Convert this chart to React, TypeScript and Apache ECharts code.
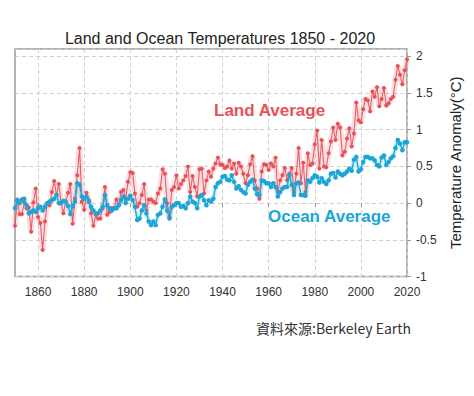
import React, { useEffect, useRef } from "react";
import * as echarts from "echarts";

const years: string[] = [];
for (let y = 1850; y <= 2020; y++) years.push(String(y));

const landAverage = [
  -0.31, 0.05, -0.15, -0.15, 0.01, -0.07, -0.06, -0.39, 0.01, 0.2,
  -0.19, -0.27, -0.64, -0.25, 0.0, -0.03, 0.15, 0.3, 0.11, 0.26,
  0.0, -0.14, 0.02, 0.14, 0.26, -0.28, 0.06, 0.38, 0.75, 0.02,
  -0.09, 0.14, 0.04, -0.14, -0.31, -0.16, -0.21, -0.21, -0.07, 0.22,
  -0.16, -0.12, -0.07, -0.07, 0.05, -0.03, 0.15, 0.18, 0.06, 0.29,
  0.42, 0.41, 0.13, -0.05, 0.0, 0.11, 0.26, -0.1, 0.05, 0.05,
  0.02, 0.0, 0.13, 0.2, 0.46, 0.4, 0.0, -0.19, 0.18, 0.22,
  0.38, 0.2, 0.26, 0.31, 0.37, 0.5, 0.15, 0.37, 0.22, 0.09,
  0.46, 0.47, 0.13, 0.31, 0.43, 0.36, 0.47, 0.54, 0.62, 0.53,
  0.52, 0.48, 0.5, 0.58, 0.47, 0.54, 0.4, 0.55, 0.5, 0.4,
  0.27, 0.38, 0.53, 0.64, 0.31, 0.2, 0.06, 0.43, 0.53, 0.52,
  0.45, 0.54, 0.5, 0.62, 0.15, 0.31, 0.38, 0.48, 0.31, 0.4,
  0.48, 0.15, 0.4, 0.75, 0.27, 0.55, 0.15, 0.68, 0.52, 0.54,
  0.8, 0.99, 0.47, 0.86, 0.5, 0.49, 0.68, 0.84, 1.03, 0.86,
  1.08, 1.03, 0.65, 0.7, 0.88, 1.02, 0.77, 0.95, 1.37, 1.13,
  1.1, 1.28, 1.42, 1.4, 1.25, 1.52, 1.45, 1.58, 1.32, 1.42,
  1.57, 1.33, 1.36, 1.42, 1.45, 1.68, 1.87, 1.75, 1.62, 1.81,
  1.96,
];

const oceanAverage = [
  -0.07, 0.04, 0.0, 0.05, 0.06, -0.03, -0.14, -0.12, -0.1, -0.12,
  -0.07, -0.05, -0.1, -0.05, 0.0, 0.02, 0.04, 0.06, 0.11, 0.0,
  0.0, 0.03, 0.02, -0.04, -0.15, -0.04, 0.02, 0.27, 0.25, 0.09,
  0.06, 0.09, 0.02, -0.05, -0.1, -0.14, -0.14, -0.1, -0.05, 0.11,
  -0.03, -0.07, -0.1, -0.07, -0.07, -0.03, 0.04, 0.09, 0.0, 0.06,
  0.1, 0.04, -0.05, -0.23, -0.21, -0.1, -0.03, -0.14, -0.25, -0.3,
  -0.25, -0.3, -0.16, -0.14, -0.05, 0.05, -0.1, -0.21, -0.05, -0.03,
  0.0, 0.0, -0.05, -0.04, -0.07, 0.0, 0.09, 0.02, 0.0, -0.07,
  0.09, 0.11, 0.04, -0.03, 0.04, 0.02, 0.06, 0.22, 0.27, 0.29,
  0.36, 0.37, 0.32, 0.31, 0.38, 0.29, 0.2, 0.23, 0.18, 0.15,
  0.13, 0.25, 0.29, 0.32, 0.2, 0.12, 0.11, 0.31, 0.3, 0.27,
  0.27, 0.22, 0.27, 0.22, 0.09, 0.15, 0.2, 0.22, 0.22, 0.38,
  0.25, 0.11, 0.27, 0.28, 0.11, 0.11, 0.1, 0.31, 0.29, 0.34,
  0.38, 0.36, 0.28, 0.34, 0.29, 0.26, 0.31, 0.4, 0.41, 0.35,
  0.43, 0.4, 0.38, 0.4, 0.43, 0.47, 0.44, 0.59, 0.63, 0.43,
  0.46, 0.56, 0.63, 0.63, 0.61, 0.61, 0.58, 0.52, 0.5, 0.62,
  0.65, 0.52, 0.56, 0.61, 0.64, 0.75, 0.86, 0.81, 0.72, 0.83,
  0.83,
];

const RED = "#e8505b";
const BLUE = "#1ba6d6";

const isLabelYear = (_i: number, v: string) => Number(v) % 20 === 0;

export default function App() {
  const ref = useRef<HTMLDivElement>(null);
  useEffect(() => {
    document.body.style.margin = "0";
    if (!ref.current) return;
    const chart = echarts.init(ref.current, undefined, { renderer: "svg" });
    chart.setOption({
      animation: false,
      backgroundColor: "#ffffff",
      title: {
        text: "Land and Ocean Temperatures 1850 - 2020",
        left: 215,
        top: 25,
        textAlign: "center",
        textStyle: {
          fontFamily: "Liberation Sans, Arial, sans-serif",
          fontSize: 16,
          fontWeight: "normal",
          color: "#222",
        },
      },
      grid: {
        left: 15,
        right: 67,
        top: 49,
        bottom: 119.5,
        show: true,
        borderColor: "#999",
        borderWidth: 1.5,
        containLabel: false,
      },
      xAxis: {
        type: "category",
        data: years,
        boundaryGap: false,
        axisLine: { show: false },
        axisTick: {
          show: true,
          interval: isLabelYear,
          length: 4,
          lineStyle: { color: "#999" },
        },
        axisLabel: {
          interval: isLabelYear,
          color: "#333",
          fontSize: 12,
          margin: 9,
          fontFamily: "Liberation Sans, Arial, sans-serif",
        },
        splitLine: {
          show: true,
          interval: isLabelYear,
          lineStyle: { color: "#d0d0d0", type: [4, 3] },
        },
      },
      yAxis: {
        type: "value",
        position: "right",
        min: -1,
        max: 2.1,
        interval: 0.5,
        axisLine: { show: false },
        axisTick: { show: true, length: 4, lineStyle: { color: "#999" } },
        axisLabel: {
          showMaxLabel: false,
          color: "#333",
          fontSize: 12,
          margin: 9,
          fontFamily: "Liberation Sans, Arial, sans-serif",
        },
        splitLine: {
          show: true,
          lineStyle: { color: "#d0d0d0", type: [4, 3] },
        },
        name: "Temperature Anomaly(°C)",
        nameLocation: "middle",
        nameRotate: 90,
        nameGap: 40,
        nameTextStyle: {
          fontSize: 15,
          color: "#222",
          fontFamily: "Liberation Sans, Arial, sans-serif",
        },
      },
      series: [
        {
          type: "line",
          data: landAverage,
          silent: true,
          showSymbol: false,
          lineStyle: { color: RED, width: 6, opacity: 0.18 },
          z: 1,
        },
        {
          type: "line",
          name: "Land Average",
          data: landAverage,
          symbol: "circle",
          symbolSize: 4,
          showAllSymbol: true,
          lineStyle: { color: RED, width: 1.1, opacity: 0.9 },
          itemStyle: { color: RED },
          z: 2,
        },
        {
          type: "line",
          data: oceanAverage,
          silent: true,
          showSymbol: false,
          lineStyle: { color: BLUE, width: 5, opacity: 0.18 },
          z: 3,
        },
        {
          type: "line",
          name: "Ocean Average",
          data: oceanAverage,
          symbol: "circle",
          symbolSize: 4.5,
          showAllSymbol: true,
          lineStyle: { color: BLUE, width: 1.4 },
          itemStyle: { color: BLUE },
          z: 4,
        },
      ],
      graphic: [
        {
          type: "text",
          left: 214,
          top: 102,
          style: {
            text: "Land Average",
            fill: RED,
            font: "bold 17px 'Liberation Sans', Arial, sans-serif",
          },
          z: 10,
        },
        {
          type: "text",
          left: 268,
          top: 208,
          style: {
            text: "Ocean Average",
            fill: BLUE,
            font: "bold 17px 'Liberation Sans', Arial, sans-serif",
          },
          z: 10,
        },
        {
          type: "text",
          left: 256,
          top: 321,
          style: {
            text: "資料來源:Berkeley Earth",
            fill: "#333",
            font: "14px 'Noto Sans CJK TC', 'Noto Sans', sans-serif",
          },
        },
      ],
    });
    return () => chart.dispose();
  }, []);
  return <div ref={ref} style={{ width: 474, height: 396 }} />;
}
